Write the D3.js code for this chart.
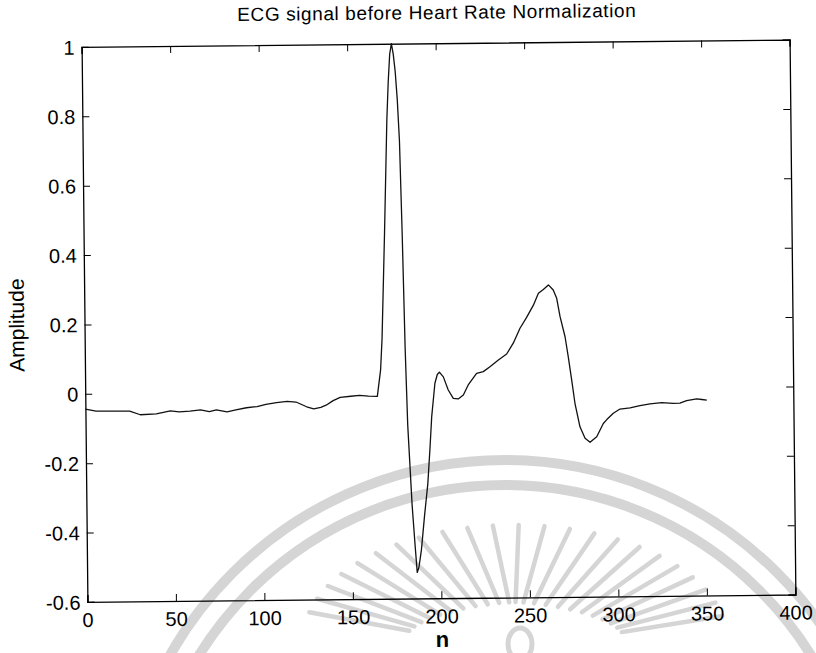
<!DOCTYPE html>
<html>
<head>
<meta charset="utf-8">
<script src="https://cdn.jsdelivr.net/npm/d3@7"></script>
<style>
  html, body { margin: 0; padding: 0; background: #fff; }
  svg { display: block; }
  text { font-family: "Liberation Sans", Arial, Helvetica, sans-serif; fill: #000; }
</style>
</head>
<body>
<svg id="chart" width="816" height="653"></svg>
<script>
// ECG beat samples (n, amplitude)
const sampleN = [0, 6, 25, 31, 40, 48, 53, 59, 65, 70, 74, 80, 85, 91, 97, 102, 108, 114, 119, 125,
  129, 133, 136, 140, 144, 150, 155, 160, 165, 167, 168, 170, 172, 173, 174, 175, 176, 177, 178, 179,
  180, 181, 182, 184, 185.5, 186.5, 187.5, 189, 191, 193, 194.4, 195.6, 197.6, 199, 200.2, 202.4,
  205.1, 207.9, 210.7, 213.6, 216.4, 221.2, 225, 228.8, 233.6, 238.3, 242.1, 246, 249.8, 253.7,
  256.6, 259.4, 262.3, 265, 266.9, 268.7, 271.4, 273.1, 274.9, 276.6, 279.3, 282.1, 284.9, 288.7,
  292.5, 294.5, 298.2, 302, 307.7, 313.3, 319, 325.6, 332.1, 335.9, 339.7, 345.4, 348.3, 351.1];
const amplitude = [-0.044, -0.050, -0.051, -0.062, -0.060, -0.052, -0.055, -0.053, -0.050, -0.055,
  -0.050, -0.056, -0.051, -0.045, -0.042, -0.036, -0.031, -0.028, -0.030, -0.044,
  -0.050, -0.046, -0.040, -0.027, -0.018, -0.015, -0.013, -0.015, -0.016, 0.06, 0.15, 0.45, 0.78, 0.89, 0.97, 1.0, 0.97, 0.92, 0.84, 0.72,
  0.45, 0.12, -0.10, -0.33, -0.45, -0.525, -0.51, -0.46, -0.36, -0.27, -0.17, -0.076, 0.02, 0.045, 0.052, 0.038,
  0.000, -0.024, -0.026, -0.015, 0.014, 0.047, 0.052, 0.066, 0.085, 0.102, 0.133, 0.176, 0.207, 0.242,
  0.276, 0.287, 0.300, 0.285, 0.261, 0.208, 0.150, 0.092, 0.025, -0.042, -0.110, -0.143, -0.155, -0.139,
  -0.101, -0.090, -0.072, -0.060, -0.057, -0.051, -0.046, -0.043, -0.045, -0.045, -0.038, -0.033, -0.035, -0.037];

const xTicks = [0, 50, 100, 150, 200, 250, 300, 350, 400];
const yTicks = [-0.6, -0.4, -0.2, 0, 0.2, 0.4, 0.6, 0.8, 1];
const titleText = "ECG signal before Heart Rate Normalization";
const xLabel = "n";
const yLabel = "Amplitude";

const svg = d3.select("#chart");
const m = { left: 84.5, right: 792.5, top: 43.25, bottom: 598.25 };
const cx = (m.left + m.right) / 2, cy = (m.top + m.bottom) / 2;

// faint seal watermark behind the figure: two rings and a fan of rays
const wm = svg.append("g").attr("fill", "none").attr("stroke", "#d5d5d5");
const sealC = [505, 845];
[[385, 10], [360, 10]].forEach(([r, w]) => {
  wm.append("circle").attr("cx", sealC[0]).attr("cy", sealC[1]).attr("r", r).attr("stroke-width", w);
});
const rayC = [515, 640];
d3.range(12, 169, 7).forEach(a => {
  const t = a * Math.PI / 180;
  const c = Math.cos(t), s = Math.sin(t);
  wm.append("line")
    .attr("x1", rayC[0] + 110 * c * Math.abs(c) ** 0.3).attr("y1", rayC[1] - 38 * s)
    .attr("x2", rayC[0] + 212 * c).attr("y2", rayC[1] - 115 * s)
    .attr("stroke-width", 4.5).attr("stroke-linecap", "round");
});
wm.append("ellipse").attr("cx", 520).attr("cy", 644).attr("rx", 12).attr("ry", 16).attr("stroke-width", 5);

// figure content, slightly tilted as printed
const fig = svg.append("g").attr("transform", `rotate(-0.6, ${cx}, ${cy})`);

const x = d3.scaleLinear().domain([0, 400]).range([m.left, m.right]);
const y = d3.scaleLinear().domain([-0.6, 1]).range([m.bottom, m.top]);

const tickLen = 7;
const fmt = d => (d === 0 ? "0" : String(+d.toFixed(1)));

const axB = fig.append("g").attr("transform", `translate(0,${m.bottom})`)
  .call(d3.axisBottom(x).tickValues(xTicks).tickSize(-tickLen).tickPadding(8).tickFormat(d3.format("d")));
const axT = fig.append("g").attr("transform", `translate(0,${m.top})`)
  .call(d3.axisTop(x).tickValues(xTicks).tickSize(-tickLen).tickFormat(""));
const axL = fig.append("g").attr("transform", `translate(${m.left},0)`)
  .call(d3.axisLeft(y).tickValues(yTicks).tickSize(-tickLen).tickPadding(7).tickFormat(fmt));
const axR = fig.append("g").attr("transform", `translate(${m.right},0)`)
  .call(d3.axisRight(y).tickValues(yTicks).tickSize(-tickLen).tickFormat(""));

[axB, axT, axL, axR].forEach(a => {
  a.selectAll(".domain").attr("stroke", "#000").attr("stroke-width", 1.3);
  a.selectAll(".tick line").attr("stroke", "#000").attr("stroke-width", 1);
  a.selectAll("text").attr("font-size", 20).attr("fill", "#000")
    .attr("font-family", "'Liberation Sans', Arial, sans-serif");
});
axB.selectAll(".tick text").attr("dy", "0.85em");
axL.selectAll(".tick text").attr("dy", "0.35em");

// signal trace
const pts = sampleN.map((n, i) => [n, amplitude[i]]);
fig.append("path").datum(pts)
  .attr("fill", "none").attr("stroke", "#111").attr("stroke-width", 1.3)
  .attr("stroke-linejoin", "round")
  .attr("d", d3.line().x(d => x(d[0])).y(d => y(d[1])).curve(d3.curveLinear));

// titles
fig.append("text").attr("x", 440).attr("y", 19).attr("text-anchor", "middle")
  .attr("font-size", 19).attr("letter-spacing", 0.6).text(titleText);
fig.append("text").attr("x", 439).attr("y", 647).attr("text-anchor", "middle")
  .attr("font-size", 22).attr("font-weight", "bold").text(xLabel);
fig.append("text").attr("transform", `translate(24,${cy}) rotate(-90)`).attr("text-anchor", "middle")
  .attr("font-size", 21).text(yLabel);
</script>
</body>
</html>
